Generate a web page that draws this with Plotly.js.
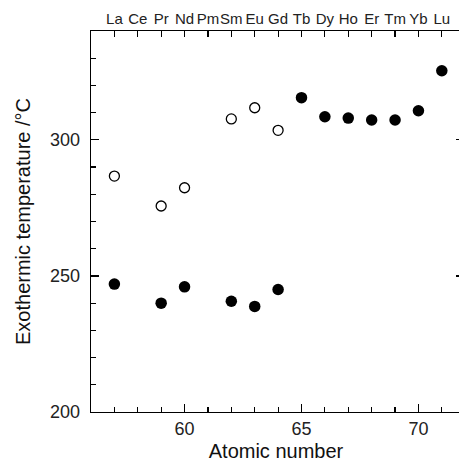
<!DOCTYPE html>
<html>
<head>
<meta charset="utf-8">
<script src="https://cdn.plot.ly/plotly-3.0.1.min.js"></script>
<style>
html,body{margin:0;padding:0;overflow:hidden;background:#fff;}
#chart{width:461px;height:466px;}
</style>
</head>
<body>
<div id="chart"></div>
<script>
var filledZ = [57, 59, 60, 62, 63, 64, 65, 66, 67, 68, 69, 70, 71];
var filledT = [247, 240, 246, 240.7, 238.8, 245, 315.5, 308.5, 308, 307.3, 307.3, 310.7, 325.4];
var openZ = [57, 59, 60, 62, 63, 64];
var openT = [286.7, 275.7, 282.4, 307.7, 311.8, 303.5];
var elementZ = [57, 58, 59, 60, 61, 62, 63, 64, 65, 66, 67, 68, 69, 70, 71];
var elementNames = ["La", "Ce", "Pr", "Nd", "Pm", "Sm", "Eu", "Gd", "Tb", "Dy", "Ho", "Er", "Tm", "Yb", "Lu"];

var font = "Liberation Sans, Arial, Helvetica, sans-serif";

var traces = [
  {x: openZ, y: openT, type: "scatter", mode: "markers",
   marker: {symbol: "circle-open", size: 10, color: "#000", line: {width: 1.3, color: "#000"}},
   showlegend: false, hoverinfo: "x+y"},
  {x: filledZ, y: filledT, type: "scatter", mode: "markers",
   marker: {symbol: "circle", size: 11.5, color: "#000"},
   showlegend: false, hoverinfo: "x+y"},
  {x: elementZ, y: elementZ.map(function(){return null;}), xaxis: "x2", yaxis: "y2",
   type: "scatter", mode: "markers", showlegend: false, hoverinfo: "skip"}
];

var layout = {
  width: 461, height: 466,
  margin: {l: 91, r: 0, t: 31, b: 54},
  paper_bgcolor: "#fff", plot_bgcolor: "#fff",
  font: {family: font, size: 18, color: "#222"},
  xaxis: {
    range: [56, 71.82], showgrid: false, zeroline: false,
    showline: true, linecolor: "#000", linewidth: 1.3,
    ticks: "inside", ticklen: 8, tickwidth: 1.2, tickcolor: "#000",
    dtick: 5, tick0: 60, tickangle: 0,
    minor: {dtick: 1, ticks: "inside", ticklen: 5, tickwidth: 1.2, tickcolor: "#000", showgrid: false},
    tickfont: {family: font, size: 18, color: "#222"},
    title: {text: "Atomic number", font: {family: font, size: 20, color: "#111"}, standoff: 6}
  },
  xaxis2: {
    overlaying: "x", side: "top", matches: "x", anchor: "y",
    range: [56, 71.82], showgrid: false, zeroline: false,
    showline: true, linecolor: "#000", linewidth: 1.3,
    tickmode: "array", tickvals: elementZ, ticktext: elementNames, tickangle: 0,
    ticks: "inside", ticklen: 6, tickwidth: 1.2, tickcolor: "#000",
    tickfont: {family: font, size: 15, color: "#222"}, ticklabelstandoff: 0
  },
  yaxis: {
    range: [200, 340], showgrid: false, zeroline: false,
    showline: true, linecolor: "#000", linewidth: 1.3,
    ticks: "inside", ticklen: 8, tickwidth: 1.2, tickcolor: "#000",
    dtick: 50, tick0: 200,
    minor: {dtick: 10, ticks: "inside", ticklen: 5, tickwidth: 1.2, tickcolor: "#000", showgrid: false},
    tickfont: {family: font, size: 18, color: "#222"}, ticklabelstandoff: 6,
    title: {text: "Exothermic temperature /°C", font: {family: font, size: 20, color: "#111"}, standoff: 14}
  },
  yaxis2: {
    overlaying: "y", side: "right", matches: "y", anchor: "x",
    range: [200, 340], showgrid: false, zeroline: false, showline: false,
    ticks: "inside", ticklen: 5, tickwidth: 1.2, tickcolor: "#000",
    dtick: 50, tick0: 200, showticklabels: false
  }
};

Plotly.newPlot("chart", traces, layout, {displayModeBar: false, staticPlot: true});
</script>
</body>
</html>
